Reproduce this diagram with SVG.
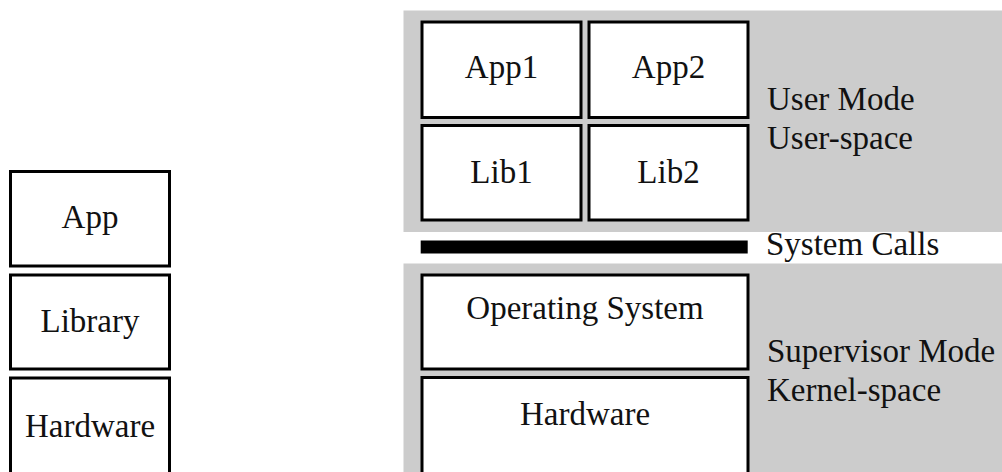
<svg xmlns="http://www.w3.org/2000/svg" width="1002" height="472" viewBox="0 0 1002 472">
<style>
.box{fill:#ffffff;stroke:#000000;stroke-width:3}
.zone{fill:#cccccc;stroke:none}
text{font-family:"Liberation Serif","Times New Roman",serif;font-size:33px;fill:#111111}
.c{text-anchor:middle}
</style>
<rect width="1002" height="472" fill="#ffffff"/>
<g id="zones">
<rect class="zone" x="403.5" y="10.5" width="598.5" height="221.5"/>
<rect class="zone" x="403.5" y="263.5" width="598.5" height="208.5"/>
</g>
<g id="left-app"><rect class="box" x="10.5" y="171.5" width="159" height="94.5"/><text class="c" x="90" y="228">App</text></g>
<g id="left-library"><rect class="box" x="10.5" y="275" width="159" height="94"/><text class="c" x="90" y="332">Library</text></g>
<g id="left-hardware"><rect class="box" x="10.5" y="378" width="159" height="100"/><text class="c" x="90" y="437">Hardware</text></g>
<g id="app1"><rect class="box" x="422" y="22" width="159" height="95.5"/><text class="c" x="501.5" y="77.5">App1</text></g>
<g id="app2"><rect class="box" x="589" y="22" width="159" height="95.5"/><text class="c" x="668.5" y="77.5">App2</text></g>
<g id="lib1"><rect class="box" x="422" y="125.5" width="159" height="94.5"/><text class="c" x="501.5" y="182.5">Lib1</text></g>
<g id="lib2"><rect class="box" x="589" y="125.5" width="159" height="94.5"/><text class="c" x="668.5" y="182.5">Lib2</text></g>
<g id="os"><rect class="box" x="422" y="275" width="326" height="94"/><text class="c" x="585" y="319">Operating System</text></g>
<g id="hardware"><rect class="box" x="422" y="377.5" width="326" height="100"/><text class="c" x="585" y="425">Hardware</text></g>
<g id="connectors">
<rect id="syscall-bar" x="420.7" y="240.5" width="327" height="13" fill="#000000"/>
</g>
<g id="labels">
<text x="767" y="110">User Mode</text>
<text x="767" y="149">User-space</text>
<text x="766" y="255">System Calls</text>
<text x="767" y="362">Supervisor Mode</text>
<text x="767" y="400.5">Kernel-space</text>
</g>
</svg>
